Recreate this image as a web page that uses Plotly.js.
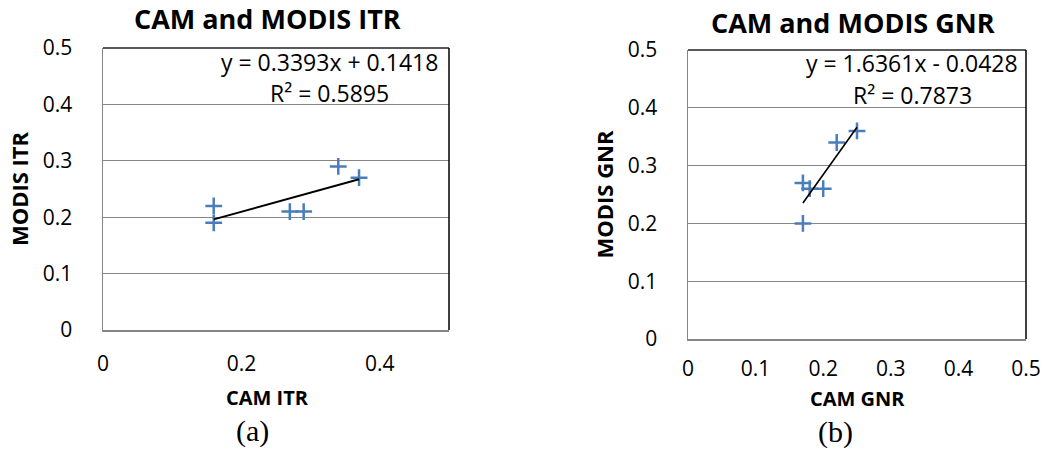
<!DOCTYPE html>
<html>
<head>
<meta charset="utf-8">
<script src="https://cdn.plot.ly/plotly-3.0.1.min.js"></script>
<style>html,body{margin:0;padding:0;background:#fff;}#chart{width:1045px;height:451px;}</style>
</head>
<body>
<div id="chart"></div>
<script>
// ---- Data ----
var camITR   = [0.16, 0.16, 0.27, 0.29, 0.34, 0.37];
var modisITR = [0.22, 0.19, 0.21, 0.21, 0.29, 0.27];
var camGNR   = [0.17, 0.18, 0.20, 0.22, 0.25, 0.17];
var modisGNR = [0.27, 0.26, 0.26, 0.34, 0.36, 0.20];

var trendSlope     = [0.3393, 1.6361];
var trendIntercept = [0.1418, -0.0428];
var trendR2        = [0.5895, 0.7873];

var chartTitles = ['CAM and MODIS ITR', 'CAM and MODIS GNR'];
var xTitles = ['CAM ITR', 'CAM GNR'];
var yTitles = ['MODIS ITR', 'MODIS GNR'];
var panelLabels = ['(a)', '(b)'];

var yTickVals = [0, 0.1, 0.2, 0.3, 0.4, 0.5];
var yTickText = ['0', '0.1', '0.2', '0.3', '0.4', '0.5'];
var xTickValsA = [0, 0.2, 0.4];
var xTickTextA = ['0', '0.2', '0.4'];
var xTickValsB = [0, 0.1, 0.2, 0.3, 0.4, 0.5];
var xTickTextB = ['0', '0.1', '0.2', '0.3', '0.4', '0.5'];

// ---- helpers ----
function trendLine(xs, m, b) {
  var lo = Math.min.apply(null, xs), hi = Math.max.apply(null, xs);
  return { x: [lo, hi], y: [m * lo + b, m * hi + b] };
}
function eqText(m, b) {
  var sign = b < 0 ? ' - ' : ' + ';
  return 'y = ' + m.toFixed(4) + 'x' + sign + Math.abs(b).toFixed(4);
}

var FONT = 'Open Sans, Liberation Sans, sans-serif';
var BLUE = '#4a7ebb';
var GRID = '#868686';

var tA = trendLine(camITR, trendSlope[0], trendIntercept[0]);
var tB = trendLine(camGNR, trendSlope[1], trendIntercept[1]);

var markerStyle = { symbol: 'cross-thin', size: 12, line: { color: BLUE, width: 2.5 }, color: BLUE };

var data = [
  { x: camITR, y: modisITR, type: 'scatter', mode: 'markers', marker: markerStyle, xaxis: 'x', yaxis: 'y' },
  { x: tA.x, y: tA.y, type: 'scatter', mode: 'lines', line: { color: '#000', width: 2 }, xaxis: 'x', yaxis: 'y' },
  { x: camGNR, y: modisGNR, type: 'scatter', mode: 'markers', marker: markerStyle, xaxis: 'x2', yaxis: 'y2' },
  { x: tB.x, y: tB.y, type: 'scatter', mode: 'lines', line: { color: '#000', width: 1.6 }, xaxis: 'x2', yaxis: 'y2' }
];

function xAxis(domain, vals, text, anchor, standoff) {
  return {
    domain: domain, range: [0, 0.5], anchor: anchor,
    tickmode: 'array', tickvals: vals, ticktext: text,
    showgrid: false, zeroline: false, showline: true, linecolor: GRID, linewidth: 1.5,
    ticks: '', ticklabelstandoff: standoff,
    tickfont: { family: FONT, size: 21, color: '#000' },
    fixedrange: true
  };
}
function yAxis(domain, title, anchor) {
  return {
    domain: domain, range: [0, 0.5], anchor: anchor,
    tickmode: 'array', tickvals: yTickVals, ticktext: yTickText,
    showgrid: true, gridcolor: GRID, gridwidth: 1.3, zeroline: false,
    showline: true, linecolor: GRID, linewidth: 1.5,
    ticks: '', ticklabelstandoff: 25,
    tickfont: { family: FONT, size: 21, color: '#000' },
    title: { text: '<b>' + title + '</b>', font: { family: FONT, size: 22, color: '#000' }, standoff: 8 },
    fixedrange: true
  };
}

var annFont = { family: FONT, size: 23, color: '#000' };
var titleFont = { family: FONT, size: 27, color: '#000' };
var axTitleFont = { family: FONT, size: 20, color: '#000' };
var panelFont = { family: 'Liberation Serif, Times New Roman, serif', size: 30, color: '#000' };

var annotations = [
  { xref: 'paper', yref: 'paper', x: 267 / 1045, y: 1 - 18 / 451, text: '<b>' + chartTitles[0] + '</b>', showarrow: false, font: titleFont, xanchor: 'center', yanchor: 'middle' },
  { xref: 'paper', yref: 'paper', x: 853 / 1045, y: 1 - 22 / 451, text: '<b>' + chartTitles[1] + '</b>', showarrow: false, font: titleFont, xanchor: 'center', yanchor: 'middle' },
  { xref: 'x domain', yref: 'paper', x: 0.656, y: 1 - 62 / 451, text: eqText(trendSlope[0], trendIntercept[0]), showarrow: false, font: annFont, xanchor: 'center', yanchor: 'middle' },
  { xref: 'x domain', yref: 'paper', x: 0.656, y: 1 - 93 / 451, text: 'R² = ' + trendR2[0].toFixed(4), showarrow: false, font: annFont, xanchor: 'center', yanchor: 'middle' },
  { xref: 'x2 domain', yref: 'paper', x: 0.663, y: 1 - 63 / 451, text: eqText(trendSlope[1], trendIntercept[1]), showarrow: false, font: annFont, xanchor: 'center', yanchor: 'middle' },
  { xref: 'x2 domain', yref: 'paper', x: 0.663, y: 1 - 95 / 451, text: 'R² = ' + trendR2[1].toFixed(4), showarrow: false, font: annFont, xanchor: 'center', yanchor: 'middle' },
  { xref: 'paper', yref: 'paper', x: 267 / 1045, y: 1 - 397 / 451, text: '<b>' + xTitles[0] + '</b>', showarrow: false, font: axTitleFont, xanchor: 'center', yanchor: 'middle' },
  { xref: 'paper', yref: 'paper', x: 857 / 1045, y: 1 - 398 / 451, text: '<b>' + xTitles[1] + '</b>', showarrow: false, font: axTitleFont, xanchor: 'center', yanchor: 'middle' },
  { xref: 'paper', yref: 'paper', x: 252 / 1045, y: 1 - 431 / 451, text: panelLabels[0], showarrow: false, font: panelFont, xanchor: 'center', yanchor: 'middle' },
  { xref: 'paper', yref: 'paper', x: 835 / 1045, y: 1 - 432 / 451, text: panelLabels[1], showarrow: false, font: panelFont, xanchor: 'center', yanchor: 'middle' }
];

var frame = function (xr, yr) {
  return [
    { type: 'line', xref: xr, yref: yr, x0: 0, x1: 1, y0: 1, y1: 1, line: { color: '#222', width: 1.5 } },
    { type: 'line', xref: xr, yref: yr, x0: 1, x1: 1, y0: 0, y1: 1, line: { color: '#000', width: 1.5 } }
  ];
};

var layout = {
  width: 1045, height: 451,
  margin: { l: 0, r: 0, t: 0, b: 0 },
  paper_bgcolor: '#fff', plot_bgcolor: '#fff',
  showlegend: false,
  xaxis: xAxis([103 / 1045, 449 / 1045], xTickValsA, xTickTextA, 'y', 14),
  yaxis: yAxis([1 - 330 / 451, 1 - 48 / 451], yTitles[0], 'x'),
  xaxis2: xAxis([688 / 1045, 1026 / 1045], xTickValsB, xTickTextB, 'y2', 10),
  yaxis2: yAxis([1 - 339 / 451, 1 - 50 / 451], yTitles[1], 'x2'),
  annotations: annotations,
  shapes: frame('x domain', 'y domain').concat(frame('x2 domain', 'y2 domain'))
};

Plotly.newPlot('chart', data, layout, { displayModeBar: false, staticPlot: true });
</script>
</body>
</html>
